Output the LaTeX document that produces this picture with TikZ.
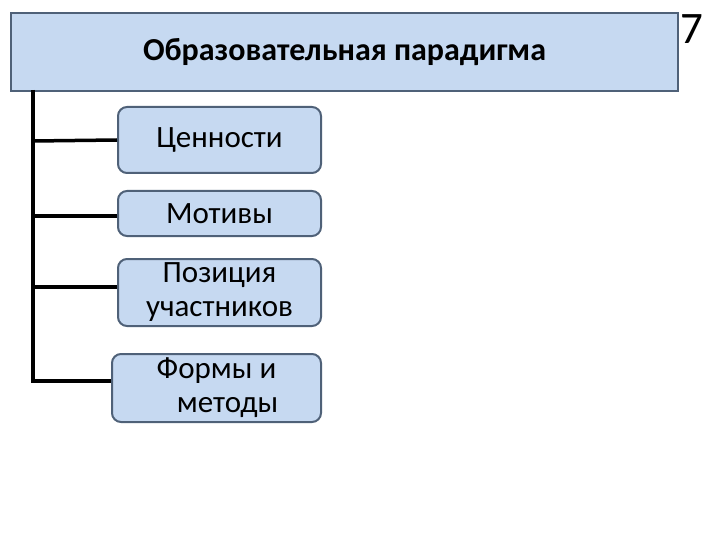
\documentclass[tikz,border=0pt]{standalone}
\usepackage{fontspec}
\setmainfont{Carlito}
\begin{document}
\begin{tikzpicture}[x=1pt,y=-1pt,
  boxfill/.style={fill=boxblue,draw=boxedge,line width=2pt},
  itembox/.style={boxfill,rounded corners=9pt,align=center,font=\fontsize{31}{35}\selectfont,inner sep=0pt},
  conn/.style={line width=3.5pt,black}]
\definecolor{boxblue}{HTML}{C6D9F1}
\definecolor{boxedge}{HTML}{4F6178}
\useasboundingbox (0,0) rectangle (720,540);
\fill[white] (0,0) rectangle (720,540);
\node[boxfill,minimum width=667pt,minimum height=78pt,inner sep=0pt,anchor=north west,
  font=\bfseries\fontsize{32}{36}\selectfont] (top) at (10,12) {Образовательная парадигма};
\node[font=\fontsize{45}{48}\selectfont,anchor=center] (num) at (692,29) {7};
\node[itembox,minimum width=203pt,minimum height=66pt] (b1) at (219.5,140) {Ценности};
\node[itembox,minimum width=203pt,minimum height=45pt] (b2) at (219.5,213.5) {Мотивы};
\node[itembox,minimum width=203pt,minimum height=67pt] (b3) at (219.5,292.5) {Позиция\\[-1pt]участников};
\node[itembox,minimum width=209pt,minimum height=68pt] (b4) at (216.5,388) {Формы и\\[-1pt]\hspace*{22pt}методы};
\coordinate (vtop) at (33,90);
\coordinate (vbot) at (33,381);
\draw[conn] (vtop) -- (vbot);
\draw[conn] (33,141) -- (b1.west |- 0,140);
\draw[conn] (33,216) -- (b2.west |- 0,216);
\draw[conn] (33,287) -- (b3.west |- 0,287);
\draw[conn] ([xshift=-1.75pt]vbot) -- (b4.west |- 0,381);
\end{tikzpicture}
\end{document}
